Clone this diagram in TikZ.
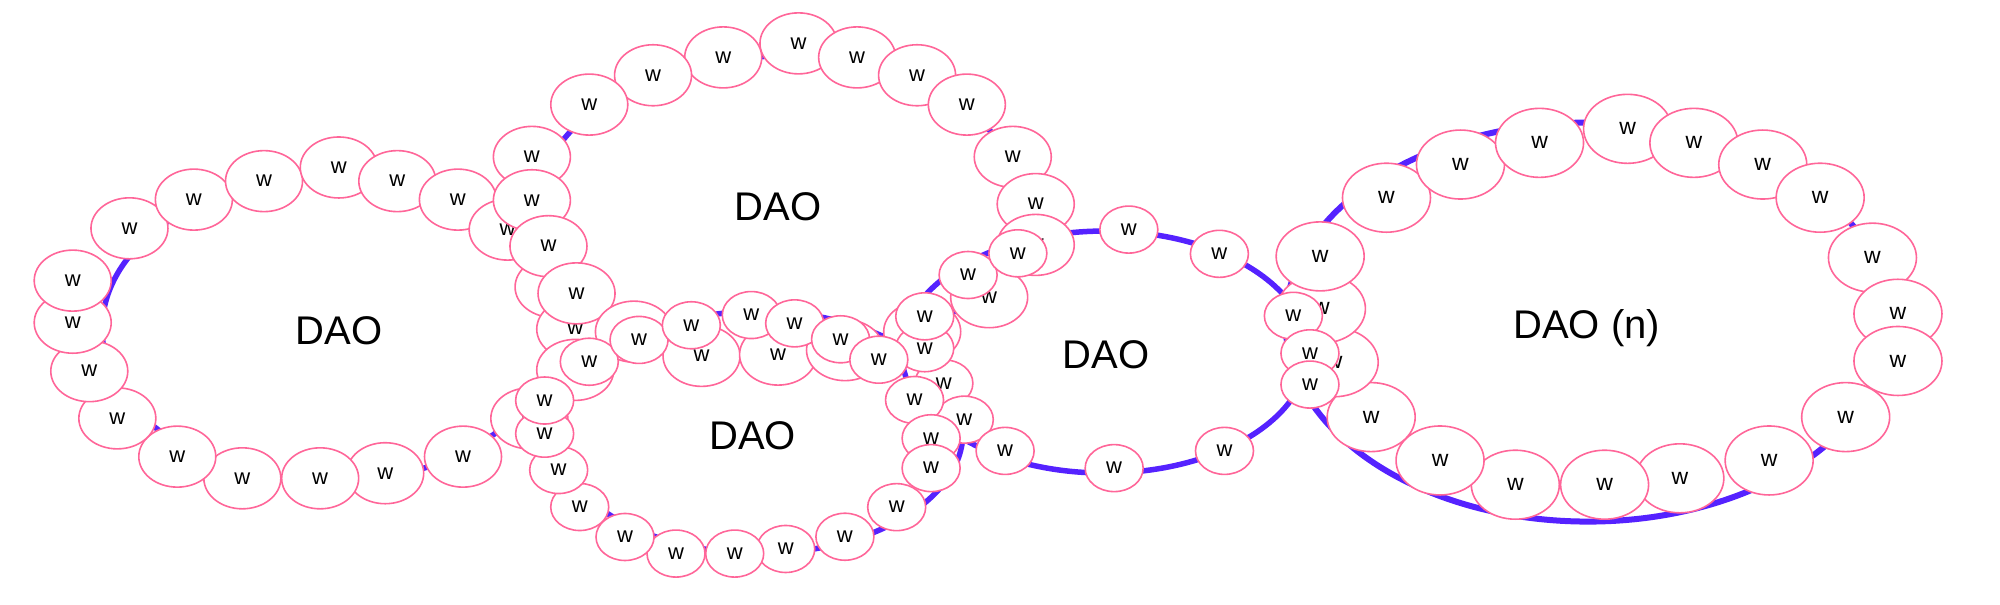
\documentclass[tikz,border=0pt]{standalone}
\usepackage{fontspec}
\setmainfont{Liberation Sans}
\usetikzlibrary{shapes.geometric}
\definecolor{wpink}{RGB}{255,102,153}
\definecolor{dpurple}{RGB}{85,34,255}
\tikzset{
  wbase/.style={ellipse, draw=wpink, fill=white, line width=1.6pt, inner sep=0pt, outer sep=0pt, font=\fontsize{22}{22}\selectfont},
  wb/.style={wbase, minimum width=77pt, minimum height=61pt},
  ws/.style={wbase, minimum width=58pt, minimum height=47pt},
  wr/.style={wbase, minimum width=88pt, minimum height=69pt, font=\fontsize{23}{23}\selectfont},
  ring/.style={ellipse, draw=dpurple, line width=5.5pt, inner sep=0pt, outer sep=0pt},
  dao/.style={font=\fontsize{40}{40}\selectfont, inner sep=0pt, text height=28.6pt, text depth=0pt}
}
\begin{document}
\begin{tikzpicture}[x=1.2755pt, y=-1.2755pt]
\useasboundingbox (0,0) rectangle (1568,474);
% purple rings
\node[ring, minimum width=454pt, minimum height=306pt] (R1) at (258,258) {};
\node[ring, minimum width=485pt, minimum height=301pt] (R2) at (612,162) {};
\node[ring, minimum width=408pt, minimum height=242pt] (R3) at (595,339) {};
\node[ring, minimum width=406pt, minimum height=242pt] (R4) at (866,276) {};
\node[ring, line width=6pt, minimum width=605pt, minimum height=399pt] (R5) at (1245,252.5) {};
% ring 1
\node[wb] (L8) at (302,371) {w};
\node[wb] (L7) at (251,375) {w};
\node[wb] (L6) at (190,375) {w};
\node[wb] (L5) at (139,358) {w};
\node[wb] (L4) at (92,328) {w};
\node[wb] (L3) at (70,291) {w};
\node[wb] (L2) at (57,253) {w};
\node[wb] (L1) at (57,220) {w};
\node[wb] (L20) at (101.5,179) {w};
\node[wb] (L19) at (152,156.5) {w};
\node[wb] (L18) at (207,142) {w};
\node[wb] (L17) at (265.6,131.3) {w};
\node[wb] (L16) at (311.5,142) {w};
\node[wb] (L15) at (359,156.5) {w};
\node[wb] (L14) at (398,180) {w};
\node[wb] (L13) at (434,225) {w};
\node[wb] (L12) at (451,258) {w};
\node[wb] (L11) at (451,290) {w};
\node[wb] (L10) at (415,328) {w};
\node[wb] (L9) at (363,358) {w};
% ring 2
\node[wb] (T1) at (626,34) {w};
\node[wb] (T2) at (567,45) {w};
\node[wb] (T3) at (512,59) {w};
\node[wb] (T4) at (462,82) {w};
\node[wb] (T5) at (417,123) {w};
\node[wb] (T6) at (417,157) {w};
\node[wb] (T7) at (430,193) {w};
\node[wb] (T8) at (452,230) {w};
\node[wb] (T20) at (672,45) {w};
\node[wb] (T19) at (719,59) {w};
\node[wb] (T18) at (758,82) {w};
\node[wb] (T17) at (794,123) {w};
\node[wb] (T16) at (812,160) {w};
\node[wb] (T15) at (812,192) {w};
\node[wb] (T14) at (775.5,233) {w};
\node[wb] (T13) at (723,260) {w};
\node[wb] (T9) at (497,260) {w};
\node[wb] (T10) at (550,279) {w};
\node[wb] (T11) at (610,278) {w};
\node[wb] (T12) at (662.5,274.5) {w};
% ring 5
\node[wr] (P1) at (1276,101) {w};
\node[wr] (P2) at (1328,112) {w};
\node[wr] (P3) at (1382,129) {w};
\node[wr] (P4) at (1427,155) {w};
\node[wr] (P5) at (1468,202) {w};
\node[wr] (P6) at (1488,246) {w};
\node[wr] (P7) at (1488,283) {w};
\node[wr] (P8) at (1447,327) {w};
\node[wr] (P9) at (1387,361) {w};
\node[wr] (P10) at (1317,375) {w};
\node[wr] (P11) at (1258,380) {w};
\node[wr] (P12) at (1188,380) {w};
\node[wr] (P13) at (1129,361) {w};
\node[wr] (P14) at (1075,327) {w};
\node[wr] (P15) at (1046,284) {w};
\node[wr] (P16) at (1036,242) {w};
\node[wr] (P17) at (1035,201) {w};
\node[wr] (P18) at (1087,155) {w};
\node[wr] (P19) at (1145,129) {w};
\node[wr] (P20) at (1207,112) {w};
% ring 3
\node[ws] (M17) at (703,397.6) {w};
\node[ws] (M16) at (662.4,420.8) {w};
\node[ws] (M15) at (616,430.4) {w};
\node[ws] (M14) at (576,434) {w};
\node[ws] (M13) at (530,434) {w};
\node[ws] (M12) at (490,421) {w};
\node[ws] (M11) at (454.5,397.5) {w};
\node[ws] (M10) at (438,368.5) {w};
\node[ws] (M9) at (427,340) {w};
\node[ws] (M8) at (427,314) {w};
\node[ws] (M22) at (740,300.5) {w};
\node[ws] (M23) at (725,273) {w};
\node[ws] (M7) at (462,283.6) {w};
\node[ws] (M6) at (501,266.5) {w};
\node[ws] (M1) at (542,255) {w};
\node[ws] (M2) at (589,247) {w};
\node[ws] (M3) at (623,253.5) {w};
\node[ws] (M4) at (659,266) {w};
\node[ws] (M5) at (689,282) {w};
\node[ws] (M24) at (725,248) {w};
\node[ws] (M20) at (756,329) {w};
\node[ws] (M21) at (717,313.6) {w};
\node[ws] (M19) at (730,343.6) {w};
\node[ws] (M18) at (730,367) {w};
% ring 4
\node[ws] (N1) at (759,215.6) {w};
\node[ws] (N2) at (798,198.6) {w};
\node[ws] (N3) at (885,180) {w};
\node[ws] (N4) at (956,199) {w};
\node[ws] (N5) at (1014,247.6) {w};
\node[ws] (N6) at (1027,277) {w};
\node[ws] (N7) at (1027,301.5) {w};
\node[ws] (N8) at (960,353.5) {w};
\node[ws] (N9) at (873.5,367) {w};
\node[ws] (N10) at (788,353.5) {w};
% labels
\node[dao] (D1) at (266,259) {DAO};
\node[dao] (D2) at (610,162) {DAO};
\node[dao] (D3) at (590,341) {DAO};
\node[dao] (D4) at (867,278) {DAO};
\node[dao] (D5) at (1244,254) {DAO (n)};
\end{tikzpicture}
\end{document}
